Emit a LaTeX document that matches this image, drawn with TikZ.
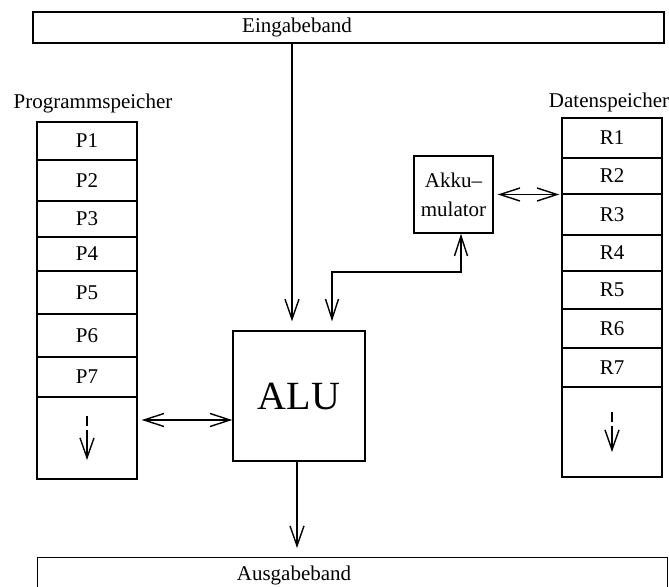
\documentclass[tikz,border=0pt]{standalone}
\usepackage{fontspec}
\setmainfont{Liberation Serif}
\usetikzlibrary{arrows.meta}

\tikzset{
  box/.style={draw, line width=0.7pt, inner sep=0pt},
  cell/.style={box, minimum width=50pt, font=\fontsize{10.5}{12}\selectfont},
  lbl/.style={font=\fontsize{10.5}{12}\selectfont, inner sep=0pt},
  arr/.style={line width=0.7pt, -{Straight Barb[length=10pt,width=7pt]}},
  dblarr/.style={line width=0.7pt, {Straight Barb[length=10pt,width=6.5pt]}-{Straight Barb[length=10pt,width=6.5pt]}},
  dasharr/.style={arr, dash pattern=on 5pt off 2pt on 30pt}
}

\begin{document}
\begin{tikzpicture}[x=0.5pt,y=-0.5pt]
  \clip (0,0) rectangle (669,587);
  \node[box, minimum width=315.5pt, minimum height=15.5pt] (eingabe) at (348.5,27.5) {};
  \node[lbl] (eingabetxt) at (297,27.5) {Eingabeband};
  \node[box, minimum width=315pt, minimum height=40pt, anchor=north west] (ausgabe) at (37,557) {};
  \node[lbl] (ausgabetxt) at (294,575) {Ausgabeband};

  \node[lbl] (ptitle) at (93,103) {Programmspeicher};
  \foreach \i/\t/\b in {1/122/160,2/160/201,3/201/237,4/237/271,5/271/314,6/314/357,7/357/397}
    \node[cell, minimum height={(\b-\t)*0.5pt}] (p\i) at (87,{(\t+\b)/2}) {P\i};
  \node[cell, minimum height=41pt] (p8) at (87,438) {};

  \node[lbl] (rtitle) at (609,102) {Datenspeicher};
  \foreach \i/\t/\b in {1/118/158,2/158/194,3/194/235,4/235/271,5/271/309,6/309/348,7/348/387}
    \node[cell, minimum height={(\b-\t)*0.5pt}] (r\i) at (612,{(\t+\b)/2}) {R\i};
  \node[cell, minimum height=45pt] (r8) at (612,432) {};

  \node[box, minimum width=66pt, minimum height=65pt, font=\fontsize{20}{24}\selectfont] (alu) at (299,396) {ALU};
  \node[box, minimum width=39.5pt, minimum height=38.5pt, align=center, font=\fontsize{10.5}{12}\selectfont] (akku) at (453.5,194.5) {Akku–\\[2.5pt]mulator};

  \draw[arr, shorten >=4.5pt] (eingabe.south -| 292,0) -- (alu.north -| 292,0);
  \draw[dblarr, shorten <=4.5pt] (alu.north -| 332,0) |- (461,272) -- (akku.south -| 461,0);
  \draw[dblarr, shorten <=2pt] (p8.east |- 0,420) -- (alu.west |- 0,420);
  \draw[dblarr, shorten <=2pt, shorten >=1pt] (akku.east) -- (akku.east -| r2.west);
  \draw[arr, shorten >=4.5pt] (alu.south -| 297,0) -- (ausgabe.north -| 297,0);
  \draw[dasharr] ([yshift=11pt]p8.center) -- ([yshift=-11pt]p8.center);
  \draw[dasharr] ([yshift=10pt]r8.center) -- ([yshift=-10pt]r8.center);
\end{tikzpicture}
\end{document}
